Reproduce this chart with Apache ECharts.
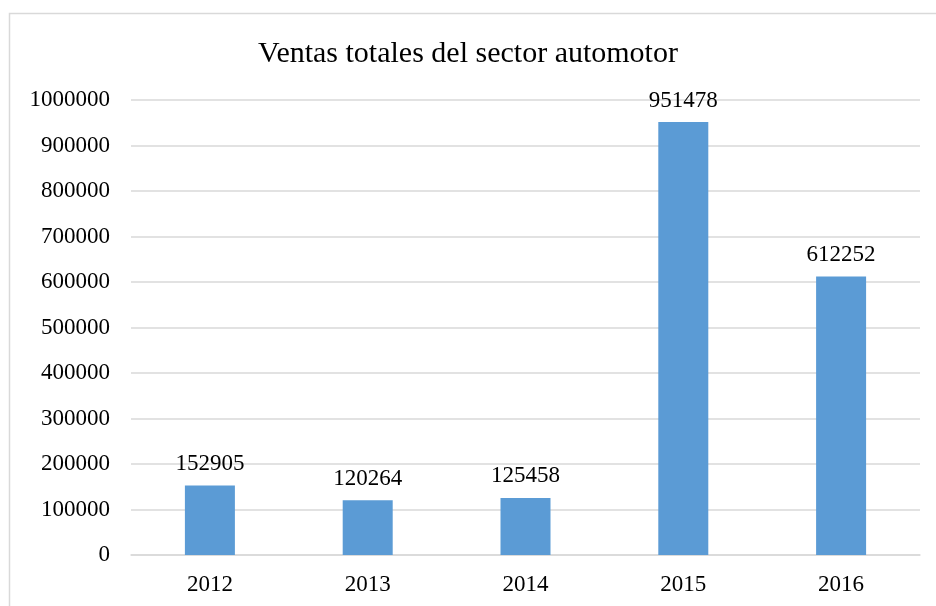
<!DOCTYPE html>
<html>
<head>
<meta charset="utf-8">
<style>
  html, body { margin: 0; padding: 0; background: #fff; }
  #chart { width: 936px; height: 606px; }
</style>
<script src="https://cdn.jsdelivr.net/npm/echarts@6/dist/echarts.min.js"></script>
</head>
<body>
<div id="chart"></div>
<script>
var years = ['2012', '2013', '2014', '2015', '2016']
var ventas = [152905, 120264, 125458, 951478, 612252]
var yMax = 1000000
var yStep = 100000

var font = '"Liberation Serif", "Times New Roman", serif'

var chart = echarts.init(document.getElementById('chart'))

chart.setOption({
  animation: false,
  textStyle: { fontFamily: font, color: '#000' },
  title: {
    text: 'Ventas totales del sector automotor',
    left: 'center',
    top: 34,
    textStyle: {
      fontFamily: font,
      fontWeight: 'normal',
      fontSize: 30,
      color: '#000'
    }
  },
  graphic: [
    {
      type: 'rect',
      shape: { x: 9.5, y: 13.5, width: 960, height: 640 },
      style: { fill: 'none', stroke: '#d9d9d9', lineWidth: 1.5 },
      silent: true
    }
  ],
  grid: {
    left: 131,
    right: 16,
    top: 100,
    bottom: 51
  },
  xAxis: {
    type: 'category',
    data: years,
    axisTick: { show: false },
    axisLine: { lineStyle: { color: '#d9d9d9', width: 1.5 } },
    axisLabel: {
      fontFamily: font,
      fontSize: 23,
      color: '#000',
      margin: 18
    }
  },
  yAxis: {
    type: 'value',
    min: 0,
    max: yMax,
    interval: yStep,
    axisLine: { show: false },
    axisTick: { show: false },
    splitLine: { lineStyle: { color: '#d9d9d9', width: 1.5 } },
    axisLabel: {
      fontFamily: font,
      fontSize: 23,
      color: '#000',
      margin: 21,
      formatter: function (v) { return String(v) }
    }
  },
  series: [
    {
      type: 'bar',
      data: ventas,
      barWidth: 50,
      itemStyle: { color: '#5B9BD5' },
      label: {
        show: true,
        position: 'top',
        distance: 10,
        fontFamily: font,
        fontSize: 23,
        color: '#000'
      }
    }
  ]
})
</script>
</body>
</html>
